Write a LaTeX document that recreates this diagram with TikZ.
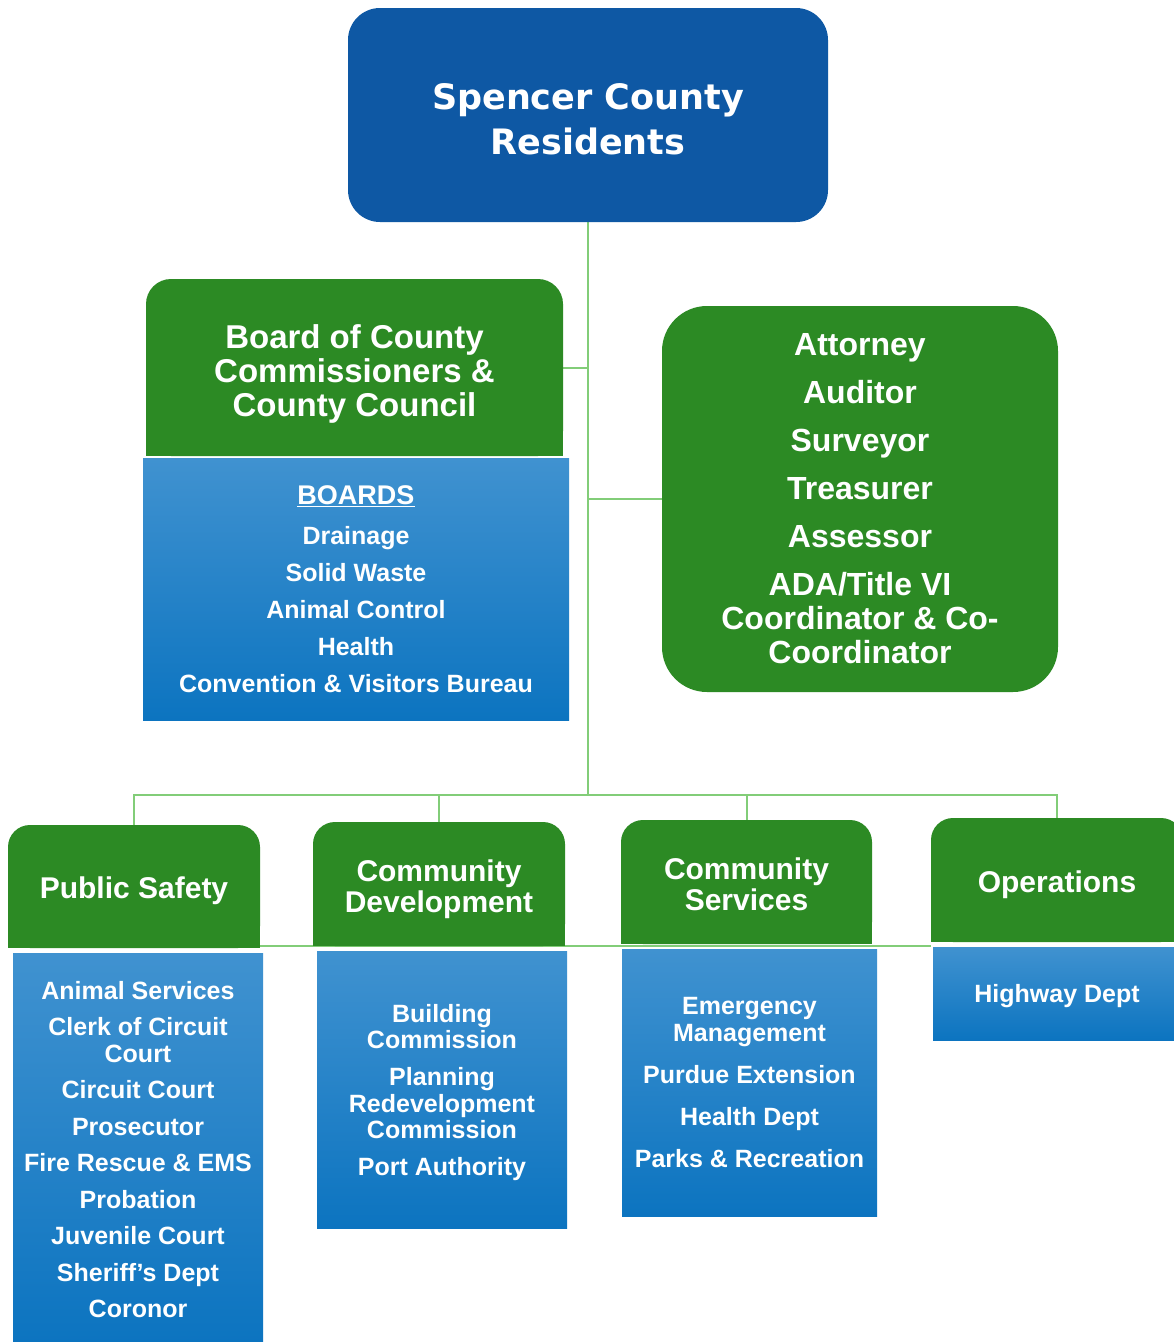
\documentclass[tikz,border=0pt]{standalone}
\usepackage{fontspec}
\setmainfont{Liberation Sans}
\newfontfamily\titlefont{DejaVu Sans}
\usetikzlibrary{backgrounds}
\definecolor{dblue}{RGB}{14,88,164}
\definecolor{gr}{RGB}{44,138,36}
\definecolor{bt}{RGB}{64,146,208}
\definecolor{bb}{RGB}{12,116,192}
\definecolor{lineC}{RGB}{130,205,120}
\newcommand{\pushdown}[1]{\rule{0pt}{#1}}
\tikzset{
  conn/.style={draw=lineC, line width=2pt},
  toptitle/.style={fill=dblue, rounded corners=32pt, text=white, align=center, inner sep=0pt,
    font=\titlefont\fontsize{35}{45}\selectfont\bfseries},
  ghead/.style={fill=gr, rounded corners=22pt, text=white, align=center, inner sep=0pt,
    font=\fontsize{30}{31}\selectfont\bfseries},
  gbox/.style={fill=gr, rounded corners=45pt, text=white, align=center, inner sep=0pt,
    font=\fontsize{32}{34}\selectfont\bfseries},
  bpanel/.style={top color=bt, bottom color=bb, text=white, align=center, inner sep=0pt,
    font=\fontsize{25}{26.5}\selectfont\bfseries},
}
\begin{document}
\begin{tikzpicture}[x=1pt,y=-1pt]
\useasboundingbox (0,0) rectangle (1174,1342);
% top
\node[toptitle, minimum width=480pt, minimum height=214pt] (top) at (588,115)
  {\pushdown{35pt}Spencer County\\Residents};
% board
\node[ghead, rounded corners=25pt, minimum width=417pt, minimum height=177pt,
  font=\fontsize{33}{34}\selectfont\bfseries] (board) at (354.5,367.5)
  {\pushdown{36pt}Board of County\\Commissioners \&\\County Council};
\node[bpanel, minimum width=426pt, minimum height=262pt,
  font=\fontsize{25}{37}\selectfont\bfseries] (boards) at (356,589)
  {{\fontsize{27}{37}\selectfont\underline{BOARDS}}\\[3pt]Drainage\\Solid Waste\\Animal Control\\Health\\Convention \& Visitors Bureau};
% elected officials
\node[gbox, minimum width=396pt, minimum height=386pt] (elected) at (860,499)
  {Attorney\\[14pt]Auditor\\[14pt]Surveyor\\[14pt]Treasurer\\[14pt]Assessor\\[14pt]ADA/Title VI\\Coordinator \& Co-\\Coordinator};
% bottom headers
\node[ghead, minimum width=252pt, minimum height=123pt] (ps) at (134,886.5) {\pushdown{30pt}Public Safety};
\node[ghead, minimum width=252pt, minimum height=124pt] (cd) at (439,884) {\pushdown{32pt}Community\\Development};
\node[ghead, minimum width=251pt, minimum height=124pt] (cs) at (746.5,882) {\pushdown{26pt}Community\\Services};
\node[ghead, minimum width=252pt, minimum height=124pt] (ops) at (1057,880) {\pushdown{32pt}Operations};
% bottom panels
\node[bpanel, minimum width=250pt, minimum height=389pt] (pspanel) at (138,1147.5)
  {\pushdown{22pt}Animal Services\\[10pt]Clerk of Circuit\\Court\\[10pt]Circuit Court\\[10pt]Prosecutor\\[10pt]Fire Rescue \& EMS\\[10pt]Probation\\[10pt]Juvenile Court\\[10pt]Sheriff's Dept\\[10pt]Coronor};
\node[bpanel, minimum width=250pt, minimum height=277pt] (cdpanel) at (442,1089.5)
  {\pushdown{24pt}Building\\Commission\\[10.5pt]Planning\\Redevelopment\\Commission\\[10.5pt]Port Authority};
\node[bpanel, minimum width=255pt, minimum height=267pt] (cspanel) at (749.5,1082.5)
  {Emergency\\Management\\[15.5pt]Purdue Extension\\[15.5pt]Health Dept\\[15.5pt]Parks \& Recreation};
\node[bpanel, minimum width=248pt, minimum height=93pt] (opspanel) at (1057,993.5)
  {\pushdown{24pt}Highway Dept};
\coordinate (bus) at (590,795);
\begin{scope}[on background layer]
  \fill[white] (0,0) rectangle (1174,1342);
  % connectors
  \draw[conn] (top.south) -- (top.south |- bus);
  \draw[conn] (board.east) -- (board.east -| top.south);
  \draw[conn] (elected.west) -- (elected.west -| top.south);
  \draw[conn] (ps.north) |- (bus) -| (ops.north);
  \draw[conn] (cd.north) -- (cd.north |- bus);
  \draw[conn] (cs.north) -- (cs.north |- bus);
  \draw[conn] ([yshift=2pt]ps.south east) -- ([yshift=2pt]ps.south east -| ops.south west);
  % square bottom corners of the green headers
  \fill[gr] ([yshift=30pt]board.south west) rectangle (board.south east);
  \fill[gr] ([yshift=30pt]ps.south west) rectangle (ps.south east);
  \fill[gr] ([yshift=30pt]cd.south west) rectangle (cd.south east);
  \fill[gr] ([yshift=30pt]cs.south west) rectangle (cs.south east);
  \fill[gr] ([yshift=30pt]ops.south west) rectangle (ops.south east);
\end{scope}
\end{tikzpicture}
\end{document}
